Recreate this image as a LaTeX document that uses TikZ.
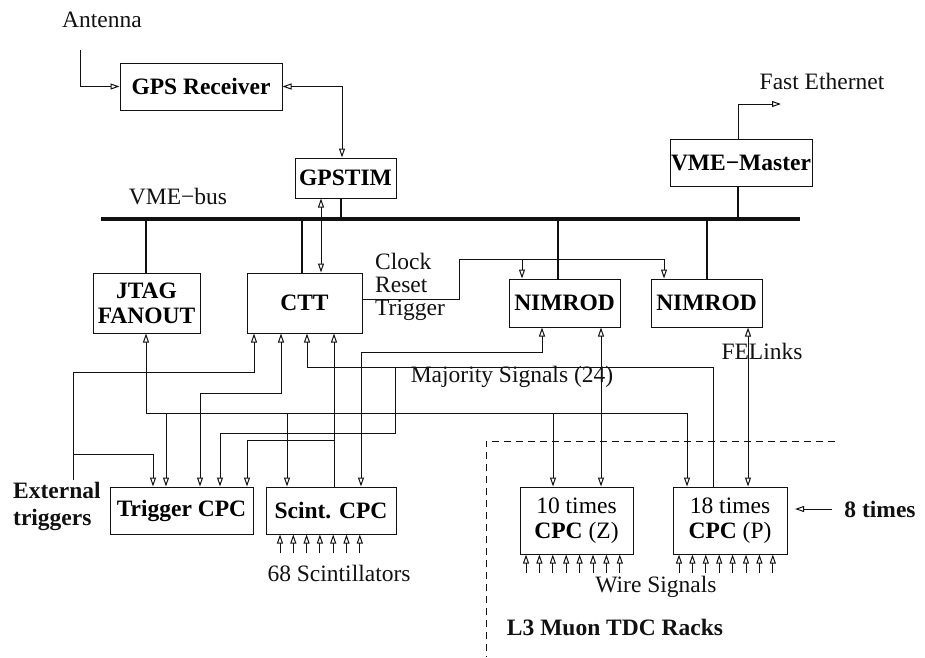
\documentclass[tikz,border=0pt]{standalone}
\usepackage{fontspec}
\setmainfont{Liberation Serif}
\usepackage{tikz}
\usetikzlibrary{arrows.meta, calc}
\definecolor{ink}{HTML}{111111}

\begin{document}
\begin{tikzpicture}[x=1pt, y=-1pt, font=\fontsize{23.5}{23}\selectfont,
  box/.style={draw=ink, line width=1pt, inner sep=0pt, align=center,
              font=\fontsize{23.5}{25}\selectfont\bfseries},
  rack/.style={box, font=\fontsize{23.5}{25}\selectfont},
  link/.style={draw=ink, line width=1pt},
  wire/.style={link, -{Triangle[open, length=9pt, width=6pt]}},
  both/.style={link, {Triangle[open, length=9pt, width=6pt]}-{Triangle[open, length=9pt, width=6pt]}},
  bus/.style={draw=ink, line width=3.5pt},
  stub/.style={draw=ink, line width=2.5pt},
  lbl/.style={text=ink, inner sep=0pt}]
  \useasboundingbox (0,0) rectangle (925,657);

  % modules
  \node[box, minimum width=162pt, minimum height=47pt] (gps) at (201,86.5) {GPS Receiver};
  \node[box, minimum width=101pt, minimum height=40pt] (gpstim) at (345.5,178) {GPSTIM};
  \node[box, minimum width=142pt, minimum height=47pt] (vme) at (741,162.5) {VME−Master};
  \node[box, minimum width=107pt, minimum height=60pt] (jtag) at (146.5,303) {JTAG\\FANOUT};
  \node[box, minimum width=115pt, minimum height=60pt] (ctt) at (304.5,303) {CTT};
  \node[box, minimum width=111pt, minimum height=48pt] (nimA) at (564.5,303) {NIMROD};
  \node[box, minimum width=111pt, minimum height=48pt] (nimB) at (706.5,303) {NIMROD};
  \node[box, minimum width=143pt, minimum height=47pt] (trig) at (181.5,510.5) {Trigger CPC};
  \node[box, minimum width=130pt, minimum height=47pt] (scint) at (331,510.5) {Scint. CPC};
  \node[rack, minimum width=113pt, minimum height=67pt] (cpcz) at (576.5,520.5) {10 times\\\textbf{CPC} (Z)};
  \node[rack, minimum width=114pt, minimum height=67pt] (cpcp) at (730,520.5) {18 times\\\textbf{CPC} (P)};

  % labels
  \node[lbl] (antlbl) at (102,20) {Antenna};
  \node[lbl] (buslbl) at (178,197) {VME−bus};
  \node[lbl] (ethlbl) at (822,81) {Fast Ethernet};
  \node[lbl, anchor=west, align=left] (crt) at (375,287) {Clock\\Reset\\Trigger};
  \node[lbl] (majlbl) at (512,377) {Majority Signals (24)};
  \node[lbl] (felbl) at (762,351) {FELinks};
  \node[lbl, anchor=west, align=left, font=\fontsize{23.5}{27}\selectfont\bfseries] (extlbl) at (13,506) {External\\triggers};
  \node[lbl] (scilbl) at (339,573) {68 Scintillators};
  \node[lbl] (wirlbl) at (656,587) {Wire Signals};
  \node[lbl, font=\fontsize{23.5}{23}\selectfont\bfseries] (raclbl) at (615,627) {L3 Muon TDC Racks};
  \node[lbl, font=\fontsize{23.5}{23}\selectfont\bfseries] (eight) at (880,509) {8 times};

  % VME bus and its stubs
  \coordinate (busL) at (101,219);
  \coordinate (busR) at (800,219);
  \draw[bus] (busL) -- (busR);
  \foreach \x/\n in {146/jtag, 302/ctt, 558/nimA, 707/nimB}
    \draw[stub] (\x,219) -- (\x,0 |- \n.north);
  \foreach \x/\n in {341/gpstim, 738/vme}
    \draw[stub] (\x,0 |- \n.south) -- (\x,219);

  % GPS chain
  \coordinate (ant) at (80,50);
  \draw[wire] (ant) |- (gps.west);
  \draw[both] (gps.east) -| (342,0 |- gpstim.north);
  \draw[both] (321,0 |- gpstim.south) -- (321,0 |- ctt.north);
  \coordinate (eth) at (781,104);
  \draw[wire] (738,0 |- vme.north) |- (eth);

  % clock, reset, trigger
  \draw[wire] (ctt.east |- 0,299) -- (459,299) -- (459,259) -| (664,0 |- nimB.north);
  \draw[wire] (522,259) -- (522,0 |- nimA.north);

  % JTAG chain
  \draw[wire] (146,413) -- (146,0 |- jtag.south);
  \draw[link] (146,413) -- (687,413);
  \foreach \x/\n in {166/trig, 287/scint, 553/cpcz, 687/cpcp}
    \draw[wire] (\x,413) -- (\x,0 |- \n.north);

  % external triggers
  \coordinate (ext) at (73,480);
  \draw[wire] (ext) -- (73,372) -| (254,0 |- ctt.south);
  \draw[wire] (73,454) -| (153,0 |- trig.north);

  % CTT <-> trigger CPC
  \draw[both] (281,0 |- ctt.south) -- (281,393) -- (200,393) -- (200,0 |- trig.north);

  % majority signals
  \draw[wire] (713,0 |- cpcp.north) -- (713,367) -- (307,367) -- (307,0 |- ctt.south);
  \draw[wire] (395,367) -- (395,433) -- (220,433) -- (220,0 |- trig.north);

  % scintillator CPC outputs
  \draw[wire] (334,0 |- scint.north) -- (334,0 |- ctt.south);
  \draw[wire] (334,440) -- (247,440) -- (247,0 |- trig.north);
  \draw[both] (542,0 |- nimA.south) -- (542,352) -- (361,352) -- (361,0 |- scint.north);

  % FE links
  \draw[both] (601,0 |- nimA.south) -- (601,0 |- cpcz.north);
  \draw[both] (748,0 |- nimB.south) -- (748,0 |- cpcp.north);

  % inputs
  \foreach \i in {0,...,6}
    \draw[wire] (280+13.3*\i,553) -- (280+13.3*\i,0 |- scint.south);
  \foreach \i in {0,...,7}{
    \draw[wire] (526+13.4*\i,573) -- (526+13.4*\i,0 |- cpcz.south);
    \draw[wire] (679+13.4*\i,573) -- (679+13.4*\i,0 |- cpcp.south);
  }
  \draw[wire] (eight.west) ++(-12,0) coordinate (eightin) -- (795,509);

  % L3 racks
  \draw[draw=ink, line width=1pt, dash pattern=on 7pt off 5pt] (835,441) -- (486,441) -- (486,657);
\end{tikzpicture}
\end{document}
